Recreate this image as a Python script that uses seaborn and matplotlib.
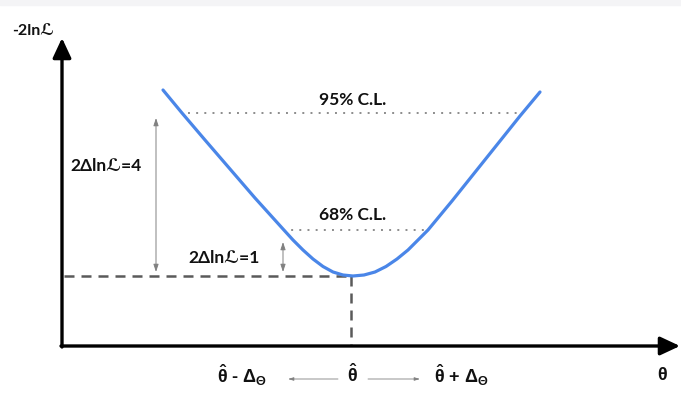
import numpy as np
import pandas as pd
import matplotlib.pyplot as plt
import seaborn as sns
from matplotlib.patches import Rectangle

# curve (theta, -2lnL), arbitrary units
theta = [101, 120, 143, 168, 193, 221, 231, 241, 251, 261, 271, 281,
         291, 302, 313, 324, 335, 346, 356, 366, 390, 414, 438, 458, 478]
nll = [256, 233, 206, 177, 148, 117, 106, 96, 87, 79.5, 74, 71,
       70, 71, 74, 79.5, 87, 96, 106, 116, 145, 175, 205, 230, 254]

theta_hat = 291
nll_min = 70
theta_lo, theta_hi = 221, 366      # 68% C.L. crossing
nll_68 = 116
theta_lo95, theta_hi95 = 126, 455  # 95% C.L. crossing
nll_95 = 233

level_labels = ["95% C.L.", "68% C.L."]
delta_labels = ["2\u0394ln\u2112=4", "2\u0394ln\u2112=1"]
theta_labels = [r"$\hat{\theta}$ - $\Delta_\Theta$", r"$\hat{\theta}$",
                r"$\hat{\theta}$ + $\Delta_\Theta$", r"$\theta$"]

sns.set_style("white")
plt.rcParams['font.family'] = ['Lato', 'DejaVu Sans']
plt.rcParams['mathtext.fontset'] = 'custom'
plt.rcParams['mathtext.bf'] = 'Liberation Sans:bold'
plt.rcParams['mathtext.rm'] = 'Liberation Sans:bold'
plt.rcParams['mathtext.default'] = 'bf'

fig = plt.figure(figsize=(6.81, 3.94), dpi=100)
fig.patches.append(Rectangle((0, 1 - 5 / 394), 1, 5 / 394, transform=fig.transFigure,
                             color='#f4f4f6', zorder=0))
ax = fig.add_axes([0, 0, 1, 1])
ax.patch.set_alpha(0)

df = pd.DataFrame({"theta": theta, "nll": nll})
sns.lineplot(data=df, x="theta", y="nll", sort=False, estimator=None,
             color='#4a86e8', lw=2.3, ax=ax, zorder=4)

# confidence level lines
dot = (0, (1, 3.2))
ax.plot([theta_lo95, theta_hi95], [nll_95, nll_95], color='#8c8c8c', lw=1.4, ls=dot)
ax.plot([theta_lo, theta_hi], [nll_68, nll_68], color='#8c8c8c', lw=1.4, ls=dot)

# minimum guides
dash = (0, (4, 2.8))
ax.plot([2, theta_hat], [nll_min, nll_min], color='#5a5a5a', lw=1.8, ls=dash, zorder=3)
ax.plot([theta_hat - 2, theta_hat - 2], [nll_min, 0], color='#5a5a5a', lw=1.8, ls=dash, zorder=3)

# axes with arrows
head = "-|>,head_length=0.6,head_width=0.28"
ax.annotate("", xy=(0, 308), xytext=(0, -1),
            arrowprops=dict(arrowstyle=head, lw=2.4, color='black',
                            mutation_scale=20, shrinkA=0, shrinkB=0))
ax.annotate("", xy=(618, 0), xytext=(-1, 0),
            arrowprops=dict(arrowstyle=head, lw=2.4, color='black',
                            mutation_scale=20, shrinkA=0, shrinkB=0))

# delta arrows
thin = dict(arrowstyle="<|-|>,head_length=0.45,head_width=0.15", lw=0.7,
            color='#808080', mutation_scale=10, shrinkA=0, shrinkB=0)
ax.annotate("", xy=(94, nll_95 - 5), xytext=(94, nll_min + 4), arrowprops=thin)
ax.annotate("", xy=(221, nll_68 - 12), xytext=(221, nll_min + 4), arrowprops=thin)

bold = dict(fontweight='bold', va='center', color='#111111')
ax.text(-29, 315, "-2ln\u2112", fontsize=11.5, ha='center', **bold)
ax.text(44, 180, delta_labels[0], fontsize=12.5, ha='center', **bold)
ax.text(162, 88, delta_labels[1], fontsize=12.5, ha='center', **bold)
ax.text(291, 246, level_labels[0], fontsize=12.5, ha='center', **bold)
ax.text(291, 131, level_labels[1], fontsize=12.5, ha='center', **bold)

# theta labels along the bottom
tfont = ['Liberation Sans', 'DejaVu Sans']
for lx, lab in zip([155, theta_hat - 6, 372, 595], theta_labels):
    ax.text(lx, -29, lab, fontsize=13, family=tfont, ha='left', **bold)

side = dict(arrowstyle="-|>,head_length=0.4,head_width=0.12", lw=0.6,
            color='#808080', mutation_scale=8, shrinkA=0, shrinkB=0)
ax.annotate("", xy=(226, -33), xytext=(276, -33), arrowprops=side)
ax.annotate("", xy=(358, -33), xytext=(306, -33), arrowprops=side)

ax.set_xlim(-62, 619)
ax.set_ylim(-48, 346)
ax.set_axis_off()

fig.savefig("out.png", dpi=100)
